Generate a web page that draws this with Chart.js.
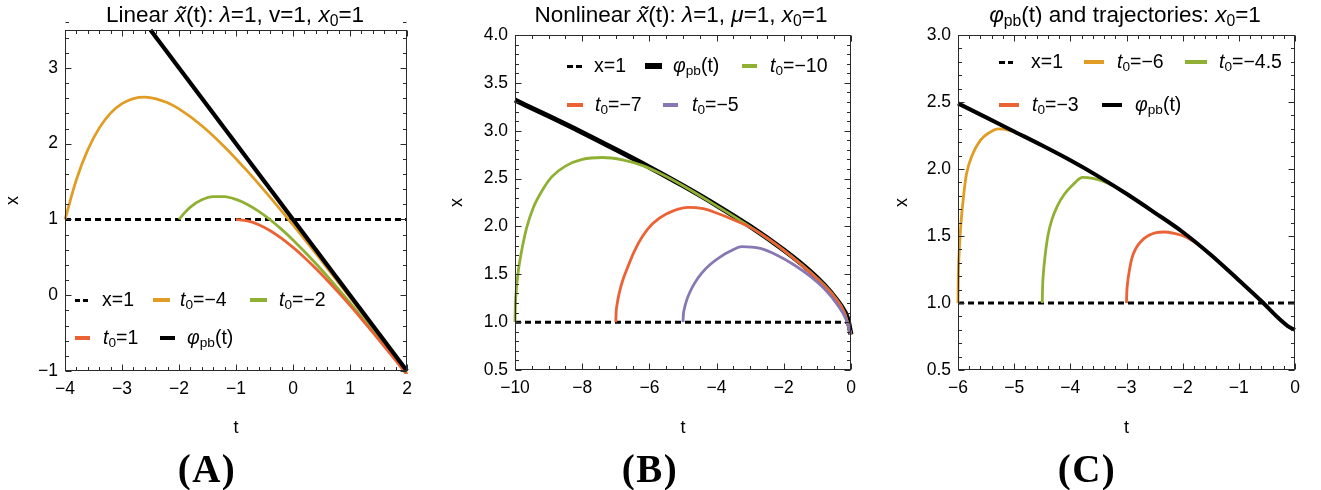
<!DOCTYPE html>
<html><head><meta charset="utf-8">
<script src="https://cdn.jsdelivr.net/npm/chart.js@4.4.1/dist/chart.umd.min.js"></script>
<style>
html,body{margin:0;padding:0;background:#fff;}
#wrap{position:relative;width:1321px;height:490px;overflow:hidden;font-family:"Liberation Sans",Arial,Helvetica,sans-serif;color:#000;}
canvas{position:absolute;top:0;}
.ttl{position:absolute;top:2px;width:440px;text-align:center;font-size:22.5px;line-height:26px;white-space:nowrap;}
sub{font-size:70%;vertical-align:-0.25em;line-height:0;}
.lt{position:absolute;font-size:19.5px;line-height:22px;height:22px;white-space:nowrap;}
.sw{position:absolute;}
.pl{position:absolute;top:448px;width:200px;text-align:center;font-family:"Liberation Serif","Times New Roman",serif;font-weight:bold;font-size:39px;letter-spacing:1.5px;line-height:42px;}
</style></head><body>
<div id="wrap">
<canvas id="cA" width="440" height="490" style="left:0px"></canvas>
<canvas id="cB" width="440" height="490" style="left:440px"></canvas>
<canvas id="cC" width="441" height="490" style="left:880px"></canvas>
<div class="ttl" style="left:15px">Linear <i>x̃</i>(t): <i>λ</i>=1, v=1, <i>x</i><sub>0</sub>=1</div>
<div class="ttl" style="left:461px">Nonlinear <i>x̃</i>(t): <i>λ</i>=1, <i>μ</i>=1, <i>x</i><sub>0</sub>=1</div>
<div class="ttl" style="left:905px"><i>φ</i><sub>pb</sub>(t) and trajectories: <i>x</i><sub>0</sub>=1</div>
<div class="pl" style="left:107px">(A)</div>
<div class="pl" style="left:550px">(B)</div>
<div class="pl" style="left:987px">(C)</div>
</div>
<script>
// ---------- Colours ----------
const ORANGE = '#E19C24', GREEN = '#8FB032', RED = '#EB6235', PURPLE = '#8778B3', BLACK = '#000000';

// ---------- Panel A : Linear ----------
const A_xTicks = [-4, -3, -2, -1, 0, 1, 2];
const A_xLabels = ['−4', '−3', '−2', '−1', '0', '1', '2'];
const A_yTicks = [-1, 0, 1, 2, 3];
const A_yLabels = ['−1', '0', '1', '2', '3'];
const A_line1_t = [-4, 2];
const A_line1_x = [1, 1];
const A_phi_t = [-2.5, 2];
const A_phi_x = [3.5, -1];
const A_tm4_t = [-4, -3.8, -3.6, -3.4, -3.2, -3.0, -2.8, -2.6, -2.4, -2.2, -2.0, -1.6, -1.2, -0.8, -0.4, 0, 0.5, 1.0, 1.5, 2.0];
const A_tm4_x = [1, 1.525, 1.919, 2.205, 2.403, 2.528, 2.595, 2.614, 2.592, 2.539, 2.459, 2.237, 1.957, 1.637, 1.291, 0.927, 0.456, -0.027, -0.516, -1.01];
const A_tm2_t = [-2, -1.9, -1.8, -1.6, -1.4, -1.2, -1.0, -0.8, -0.6, -0.4, -0.2, 0, 0.4, 0.8, 1.2, 1.6, 2.0];
const A_tm2_x = [1, 1.09, 1.163, 1.259, 1.302, 1.301, 1.264, 1.198, 1.107, 0.996, 0.869, 0.729, 0.419, 0.078, -0.282, -0.655, -1.037];
const A_tp1_t = [-1, -0.8, -0.6, -0.4, -0.2, 0, 0.2, 0.4, 0.6, 0.8, 1.0, 1.2, 1.4, 1.6, 1.8, 2.0];
const A_tp1_x = [1, 0.981, 0.93, 0.851, 0.751, 0.632, 0.499, 0.353, 0.198, 0.035, -0.135, -0.311, -0.491, -0.674, -0.861, -1.05];

// ---------- Panel B : Nonlinear ----------
const B_xTicks = [-10, -8, -6, -4, -2, 0];
const B_xLabels = ['−10', '−8', '−6', '−4', '−2', '0'];
const B_yTicks = [0.5, 1, 1.5, 2, 2.5, 3, 3.5, 4];
const B_yLabels = ['0.5', '1.0', '1.5', '2.0', '2.5', '3.0', '3.5', '4.0'];
const B_line1_t = [-10, 0];
const B_line1_x = [1, 1];
const B_phi_t = [-10, -9, -8, -7, -6, -5, -4, -3, -2, -1.5, -1, -0.6, -0.3, -0.1, 0];
const B_phi_x = [3.32, 3.153, 2.982, 2.803, 2.619, 2.426, 2.221, 2.0, 1.754, 1.616, 1.46, 1.311, 1.172, 1.038, 0.87];
const B_tm10_t = [-10, -9.99, -9.96, -9.9, -9.8, -9.65, -9.45, -9.2, -8.9, -8.5, -8.0, -7.4, -6.8, -6.2, -5.6, -5.0, -4.0, -3.0, -2.0, -1.0, -0.5, -0.2, 0];
const B_tm10_x = [1, 1.17, 1.34, 1.54, 1.75, 1.99, 2.2, 2.37, 2.52, 2.63, 2.70, 2.72, 2.695, 2.635, 2.54, 2.425, 2.215, 1.995, 1.75, 1.455, 1.27, 1.1, 0.87];
const B_tm7_t = [-7, -6.99, -6.96, -6.9, -6.8, -6.65, -6.45, -6.2, -5.9, -5.5, -4.85, -4.4, -4.0, -3.5, -3.0, -2.5, -2.0, -1.5, -1.0, -0.5, -0.2, 0];
const B_tm7_x = [1, 1.1, 1.19, 1.3, 1.43, 1.57, 1.74, 1.9, 2.03, 2.13, 2.2, 2.185, 2.14, 2.07, 1.99, 1.88, 1.75, 1.605, 1.45, 1.265, 1.1, 0.87];
const B_tm5_t = [-5, -4.99, -4.96, -4.9, -4.8, -4.65, -4.45, -4.2, -3.9, -3.6, -3.25, -2.7, -2.2, -1.7, -1.2, -0.8, -0.4, -0.15, 0];
const B_tm5_x = [1, 1.075, 1.14, 1.22, 1.31, 1.41, 1.51, 1.6, 1.68, 1.74, 1.79, 1.77, 1.70, 1.60, 1.475, 1.35, 1.18, 1.03, 0.87];

// ---------- Panel C : phi_pb and trajectories ----------
const C_xTicks = [-6, -5, -4, -3, -2, -1, 0];
const C_xLabels = ['−6', '−5', '−4', '−3', '−2', '−1', '0'];
const C_yTicks = [0.5, 1, 1.5, 2, 2.5, 3];
const C_yLabels = ['0.5', '1.0', '1.5', '2.0', '2.5', '3.0'];
const C_line1_t = [-6, 0];
const C_line1_x = [1, 1];
const C_phi_t = [-6, -5.5, -5, -4.5, -4, -3.5, -3, -2.5, -2, -1.5, -1, -0.6, -0.3, -0.1, 0];
const C_phi_x = [2.49, 2.385, 2.28, 2.175, 2.065, 1.945, 1.815, 1.675, 1.53, 1.36, 1.17, 1.015, 0.89, 0.82, 0.80];
const C_tm6_t = [-6, -5.995, -5.98, -5.95, -5.9, -5.85, -5.75, -5.6, -5.45, -5.28, -5.1, -4.9, -4.6, -4.3, -4.0];
const C_tm6_x = [1, 1.18, 1.365, 1.58, 1.8, 1.96, 2.1, 2.215, 2.27, 2.30, 2.29, 2.26, 2.195, 2.13, 2.063];
const C_tm45_t = [-4.5, -4.495, -4.48, -4.45, -4.4, -4.33, -4.23, -4.1, -3.95, -3.78, -3.6, -3.4, -3.2, -3.0, -2.7, -2.4];
const C_tm45_x = [1, 1.11, 1.22, 1.35, 1.5, 1.62, 1.725, 1.815, 1.885, 1.937, 1.93, 1.906, 1.866, 1.813, 1.73, 1.645];
const C_tm3_t = [-3, -2.995, -2.98, -2.95, -2.9, -2.83, -2.73, -2.6, -2.47, -2.34, -2.15, -1.95, -1.75, -1.5, -1.25, -1.0];
const C_tm3_x = [1, 1.076, 1.153, 1.24, 1.34, 1.41, 1.465, 1.505, 1.525, 1.53, 1.52, 1.495, 1.443, 1.358, 1.265, 1.168];

// ---------- helpers ----------
const FONT = '"Liberation Sans", Arial, Helvetica, sans-serif';
function series(ts, xs, color, width, order, dash) {
  return {
    data: ts.map((t, i) => ({ x: t, y: xs[i] })),
    borderColor: color, backgroundColor: color, borderWidth: width,
    pointRadius: 0, pointHoverRadius: 0, fill: false, order: order,
    borderDash: dash || [], cubicInterpolationMode: 'monotone',
    borderCapStyle: 'butt', borderJoinStyle: 'round', clip: 3
  };
}

const framePlugin = {
  id: 'frame',
  afterDatasetsDraw(chart, args, o) {
    const { ctx, chartArea } = chart;
    const xs = chart.scales.x, ys = chart.scales.y;
    const L = Math.round(chartArea.left) + 0.5, R = Math.round(chartArea.right) - 0.5;
    const T = Math.round(chartArea.top) + 0.5, B = Math.round(chartArea.bottom) - 0.5;
    ctx.save();
    ctx.strokeStyle = '#2a2a2a';
    ctx.lineWidth = 1;
    ctx.strokeRect(L, T, R - L, B - T);
    const majorLen = 6, minorLen = 3.5;
    function list(major, step, min, max) {
      const out = [];
      major.forEach(v => out.push([v, majorLen]));
      const n = Math.round((max - min) / step);
      for (let i = 0; i <= n; i++) {
        const v = min + i * step;
        if (!major.some(m => Math.abs(m - v) < step / 10)) out.push([v, minorLen]);
      }
      return out;
    }
    ctx.beginPath();
    list(o.xMajor, o.xMinor, xs.min, xs.max).forEach(([v, len]) => {
      const p = Math.round(xs.getPixelForValue(v)) + 0.5;
      ctx.moveTo(p, B); ctx.lineTo(p, B - len);
      ctx.moveTo(p, T); ctx.lineTo(p, T + len);
    });
    list(o.yMajor, o.yMinor, ys.min, ys.max).forEach(([v, len]) => {
      const p = Math.round(ys.getPixelForValue(v)) + 0.5;
      ctx.moveTo(L, p); ctx.lineTo(L + len, p);
      ctx.moveTo(R, p); ctx.lineTo(R - len, p);
    });
    ctx.stroke();
    ctx.restore();
  }
};

function makeChart(id, c) {
  return new Chart(document.getElementById(id), {
    type: 'line',
    data: { datasets: c.datasets },
    options: {
      responsive: false, animation: false, devicePixelRatio: 1,
      layout: { padding: c.pad },
      plugins: {
        legend: { display: false }, tooltip: { enabled: false }, title: { display: false },
        frame: { xMajor: c.xTicks, yMajor: c.yTicks, xMinor: c.xMinor, yMinor: c.yMinor }
      },
      scales: {
        x: {
          type: 'linear', min: c.xmin, max: c.xmax,
          afterFit: s => { s.height = c.xh; },
          afterBuildTicks: s => { s.ticks = c.xTicks.map(v => ({ value: v })); },
          ticks: { callback: (v, i) => c.xLabels[i], color: '#000', font: { family: FONT, size: 17.5 }, padding: 8, maxRotation: 0, autoSkip: false },
          grid: { display: false, drawTicks: false, tickLength: 0 },
          border: { display: false },
          title: { display: true, text: 't', color: '#000', font: { family: FONT, size: 18 }, padding: { top: 0, bottom: 2 } }
        },
        y: {
          type: 'linear', min: c.ymin, max: c.ymax,
          afterFit: s => { s.width = c.yw; },
          afterBuildTicks: s => { s.ticks = c.yTicks.map(v => ({ value: v })); },
          ticks: { callback: (v, i) => c.yLabels[i], color: '#000', font: { family: FONT, size: 17.5 }, padding: 7, autoSkip: false },
          grid: { display: false, drawTicks: false, tickLength: 0 },
          border: { display: false },
          title: { display: true, text: 'x', color: '#000', font: { family: FONT, size: 18 }, padding: { top: c.ytp, bottom: 0 } }
        }
      }
    },
    plugins: [framePlugin]
  });
}

const DASH = [6, 4];
makeChart('cA', {
  pad: { left: 0, right: 33, top: 30, bottom: 49 }, xh: 70, yw: 65, ytp: 2,
  xmin: -4, xmax: 2, ymin: -1, ymax: 3.5, xMinor: 0.2, yMinor: 0.2,
  xTicks: A_xTicks, xLabels: A_xLabels, yTicks: A_yTicks, yLabels: A_yLabels,
  datasets: [
    series(A_line1_t, A_line1_x, BLACK, 3, 5, DASH),
    series(A_tm4_t, A_tm4_x, ORANGE, 2.8, 4),
    series(A_tm2_t, A_tm2_x, GREEN, 2.8, 3),
    series(A_tp1_t, A_tp1_x, RED, 2.8, 2),
    series(A_phi_t, A_phi_x, BLACK, 4.2, 1)
  ]
});
makeChart('cB', {
  pad: { left: 0, right: 29, top: 35, bottom: 49 }, xh: 71, yw: 75, ytp: 6,
  xmin: -10, xmax: 0, ymin: 0.5, ymax: 4, xMinor: 0.5, yMinor: 0.1,
  xTicks: B_xTicks, xLabels: B_xLabels, yTicks: B_yTicks, yLabels: B_yLabels,
  datasets: [
    series(B_line1_t, B_line1_x, BLACK, 3, 5, DASH),
    series(B_phi_t, B_phi_x, BLACK, 5, 4),
    series(B_tm10_t, B_tm10_x, GREEN, 2.8, 3),
    series(B_tm7_t, B_tm7_x, RED, 2.8, 2),
    series(B_tm5_t, B_tm5_x, PURPLE, 2.8, 1)
  ]
});
makeChart('cC', {
  pad: { left: 0, right: 26, top: 35, bottom: 49 }, xh: 71, yw: 78, ytp: 11,
  xmin: -6, xmax: 0, ymin: 0.5, ymax: 3, xMinor: 0.2, yMinor: 0.1,
  xTicks: C_xTicks, xLabels: C_xLabels, yTicks: C_yTicks, yLabels: C_yLabels,
  datasets: [
    series(C_line1_t, C_line1_x, BLACK, 3, 5, DASH),
    series(C_tm6_t, C_tm6_x, ORANGE, 2.8, 4),
    series(C_tm45_t, C_tm45_x, GREEN, 2.8, 3),
    series(C_tm3_t, C_tm3_x, RED, 2.8, 2),
    series(C_phi_t, C_phi_x, BLACK, 4, 1)
  ]
});

// ---------- legends (HTML text) ----------
const wrap = document.getElementById('wrap');
const T0 = v => '<i>t</i><sub>0</sub>=' + v;
const PHI = '<i>φ</i><sub>pb</sub>(t)';
function legendItem(kind, color, x1, x2, tx, y, html, thick) {
  const h = thick || 3.2;
  if (kind === 'dash') {
    const w = (x2 - x1 - 3) / 2;
    [x1, x1 + w + 3].forEach(x => {
      const d = document.createElement('div');
      d.className = 'sw';
      d.style.cssText = `left:${x}px;top:${y - 1.5}px;width:${w}px;height:3px;background:${color}`;
      wrap.appendChild(d);
    });
  } else {
    const d = document.createElement('div');
    d.className = 'sw';
    d.style.cssText = `left:${x1}px;top:${y - h / 2}px;width:${x2 - x1}px;height:${h}px;background:${color}`;
    wrap.appendChild(d);
  }
  const s = document.createElement('div');
  s.className = 'lt';
  s.style.left = tx + 'px';
  s.style.top = (y - 12) + 'px';
  s.innerHTML = html;
  wrap.appendChild(s);
}
// A
legendItem('dash', BLACK, 75, 88, 102, 300, 'x=1');
legendItem('line', ORANGE, 153, 170, 180, 300, T0('−4'));
legendItem('line', GREEN, 250, 267, 279, 300, T0('−2'));
legendItem('line', RED, 75, 90, 103, 338, T0('1'));
legendItem('line', BLACK, 160, 175, 187, 338, PHI, 4);
// B
legendItem('dash', BLACK, 567, 582, 594, 66, 'x=1');
legendItem('line', BLACK, 645, 662, 673, 66, PHI, 6);
legendItem('line', GREEN, 742, 757, 770, 66, T0('−10'));
legendItem('line', RED, 567, 583, 595, 105, T0('−7'));
legendItem('line', PURPLE, 663, 678, 692, 105, T0('−5'));
// C
legendItem('dash', BLACK, 999, 1013, 1031, 62, 'x=1');
legendItem('line', ORANGE, 1084, 1104, 1117, 62, T0('−6'));
legendItem('line', GREEN, 1185, 1207, 1219, 62, T0('−4.5'));
legendItem('line', RED, 999, 1019, 1032, 105, T0('−3'));
legendItem('line', BLACK, 1102, 1122, 1135, 105, PHI, 4);
</script>
</body></html>
